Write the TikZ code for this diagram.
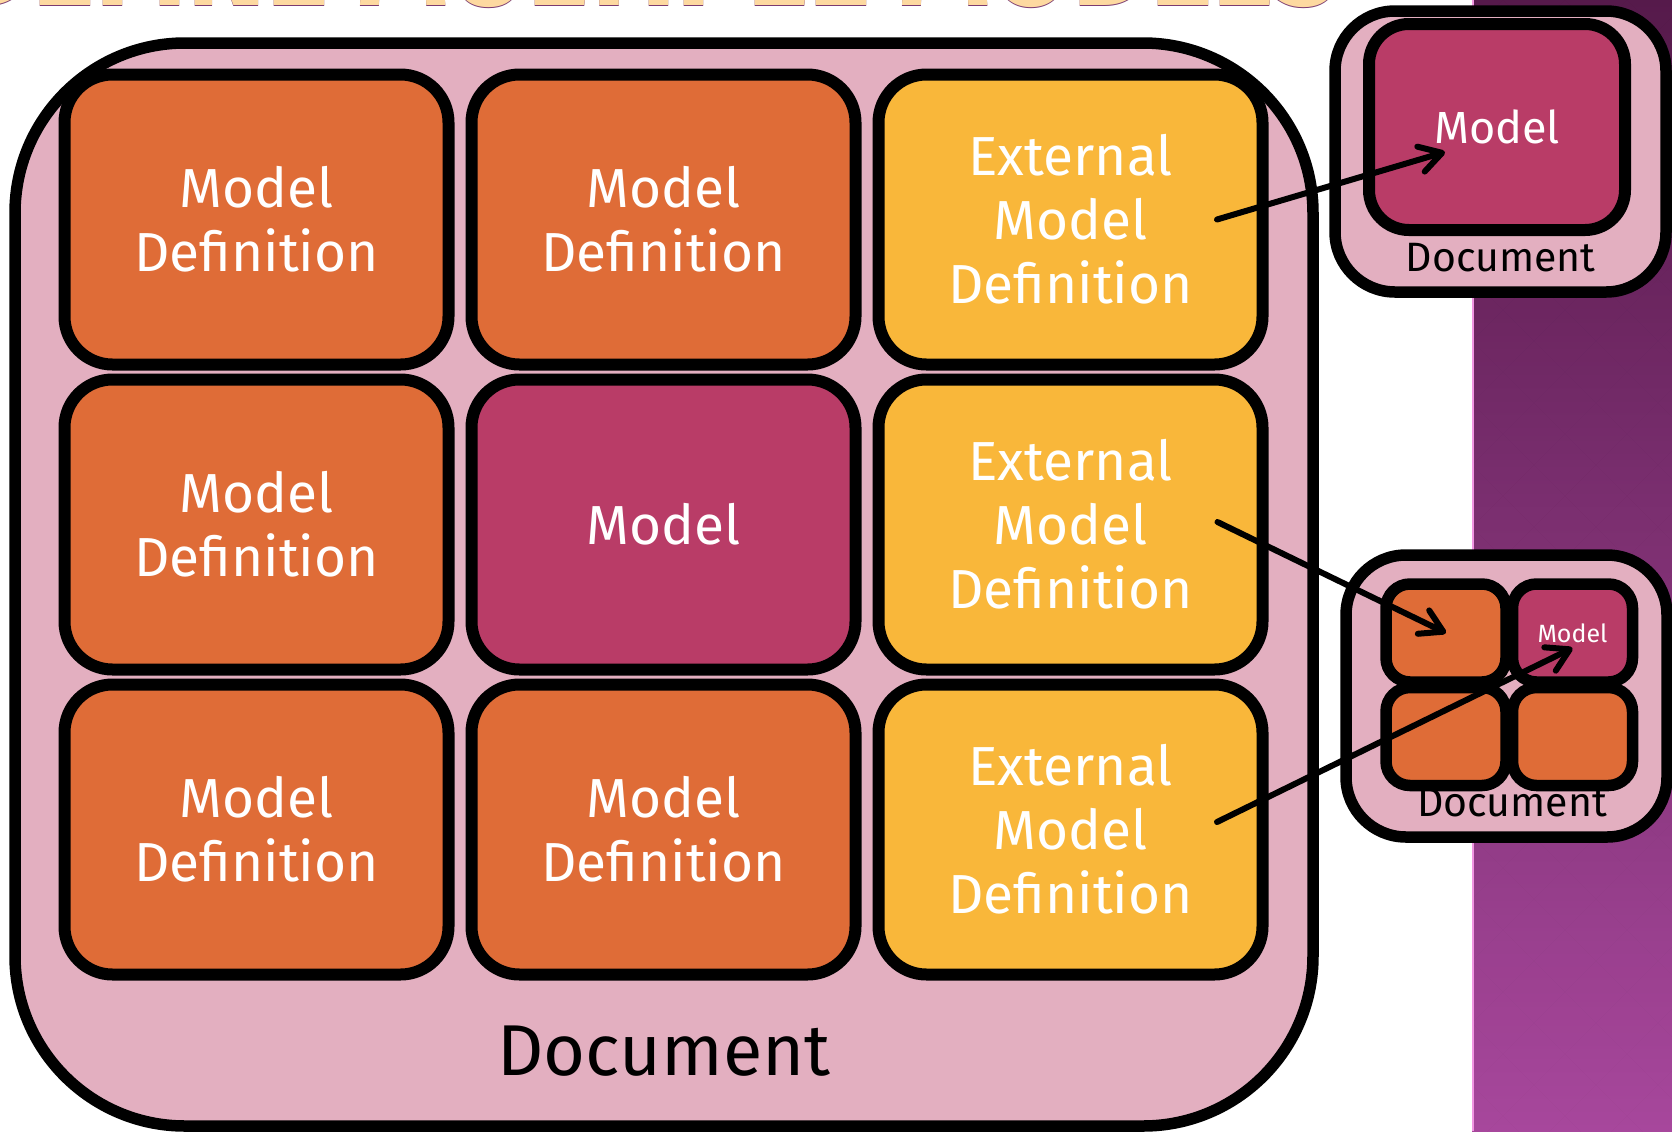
\documentclass[tikz,border=0pt]{standalone}
\usepackage{fontspec}
\setmainfont{Fira Sans}
\usetikzlibrary{positioning,arrows.meta}

\definecolor{docpink}{RGB}{227,175,192}
\definecolor{mdorange}{RGB}{223,108,55}
\definecolor{modelred}{RGB}{185,60,103}
\definecolor{extyellow}{RGB}{249,183,58}
\definecolor{bartop}{RGB}{92,28,80}
\definecolor{barbot}{RGB}{178,76,166}
\definecolor{barline}{RGB}{240,150,225}
\definecolor{titlepeach}{RGB}{253,217,160}
\definecolor{titleline}{RGB}{123,59,112}

\newcommand{\titlewords}{DEFINE MULTIPLE MODELS}

\begin{document}
\begin{tikzpicture}[x=0.5pt,y=-0.5pt,
  doc/.style={draw,line width=5.75pt,fill=docpink,rounded corners=85pt,inner sep=0pt},
  cell/.style={draw,line width=6pt,rounded corners=24pt,minimum width=192pt,minimum height=145pt,
    inner sep=0pt,text=white,align=center,font=\fontsize{27.5}{32}\selectfont},
  mdef/.style={cell,fill=mdorange},
  model/.style={cell,fill=modelred},
  ext/.style={cell,fill=extyellow},
  mini/.style={draw,line width=5.75pt,rounded corners=12pt,minimum width=60pt,minimum height=49pt,
    inner sep=0pt,fill=mdorange,text=white,font=\fontsize{12.5}{14}\selectfont},
  arr/.style={line width=3pt,line cap=round,-{Straight Barb[length=11pt,width=13pt,round]}}]

% page and side bar
\useasboundingbox (0,0) rectangle (1672,1131);
\fill[white] (0,0) rectangle (1672,1131);
\shade[top color=bartop,bottom color=barbot] (1472,0) rectangle (1672,1131);
\begin{scope}
  \clip (1472,0) rectangle (1672,1131);
  \foreach \i in {0,...,4}
    \foreach \j in {0,...,18}{
      \fill[black,opacity=.06] (1472+62*\i,62*\j-31) -- ++(31,31) -- ++(-31,31) -- ++(-31,-31) -- cycle;
      \fill[black,opacity=.06] (1503+62*\i,62*\j) -- ++(31,31) -- ++(-31,31) -- ++(-31,-31) -- cycle;
    }
\end{scope}
\draw[barline,line width=1pt] (1473,0) -- (1473,1131);

% title, cut off at the top
\node[anchor=base west,inner sep=0pt] (title) at (-45,5)
  {\resizebox{692pt}{45pt}{\bfseries\rlap{\raisebox{-.12pt}{\color{titleline}\titlewords}}{\color{titlepeach}\titlewords}}};

% big document
\node[doc,minimum width=649pt,minimum height=541.5pt] (doc) at (664,584.5) {};
\node[anchor=base,font=\fontsize{36}{40}\selectfont] (doclabel) at ([yshift=28pt]doc.south) {Document};

\node[mdef] (md1) at (256.5,219.5) {Model\\Definition};
\node[mdef,right=5.5pt of md1] (md2) {Model\\Definition};
\node[ext,right=5.5pt of md2] (ext1) {External\\Model\\Definition};
\node[mdef,below=1.5pt of md1] (md3) {Model\\Definition};
\node[model,below=1.5pt of md2] (mod) {Model};
\node[ext,below=1.5pt of ext1] (ext2) {External\\Model\\Definition};
\node[mdef,below=1.5pt of md3] (md4) {Model\\Definition};
\node[mdef,below=1.5pt of mod] (md5) {Model\\Definition};
\node[ext,below=1.5pt of ext2] (ext3) {External\\Model\\Definition};

% small document with one model
\node[doc,rounded corners=30pt,minimum width=165.5pt,minimum height=140.5pt] (sdoc1) at (1500.5,151.5) {};
\node[anchor=base,font=\fontsize{20.5}{24}\selectfont] (sdoc1label) at ([yshift=13pt]sdoc1.south) {Document};
\node[model,rounded corners=20pt,minimum width=128pt,minimum height=103pt,
  font=\fontsize{22.5}{26}\selectfont] (smodel) at (1497,127) {Model};

% small document with four parts
\node[doc,rounded corners=30pt,minimum width=160.5pt,minimum height=141pt] (sdoc2) at (1506.5,696) {};
\node[anchor=base,font=\fontsize{20.5}{24}\selectfont] (sdoc2label) at ([xshift=2.75pt,yshift=13pt]sdoc2.south) {Document};
\node[mini] (stl) at (1446,633) {};
\node[mini,fill=modelred,right=-2.5pt of stl] (str) {Model};
\node[mini,below=-3pt of stl] (sbl) {};
\node[mini,below=-3pt of str] (sbr) {};

% links
\draw[arr] ([xshift=73.25pt]ext1.center) -- ([xshift=-26pt,yshift=-12.5pt]smodel.center);
\draw[arr] ([xshift=73.5pt,yshift=1.25pt]ext2.center) -- (stl.center);
\draw[arr] ([xshift=73.25pt,yshift=3.75pt]ext3.center) -- ([yshift=-7.5pt]str.center);
\end{tikzpicture}
\end{document}
